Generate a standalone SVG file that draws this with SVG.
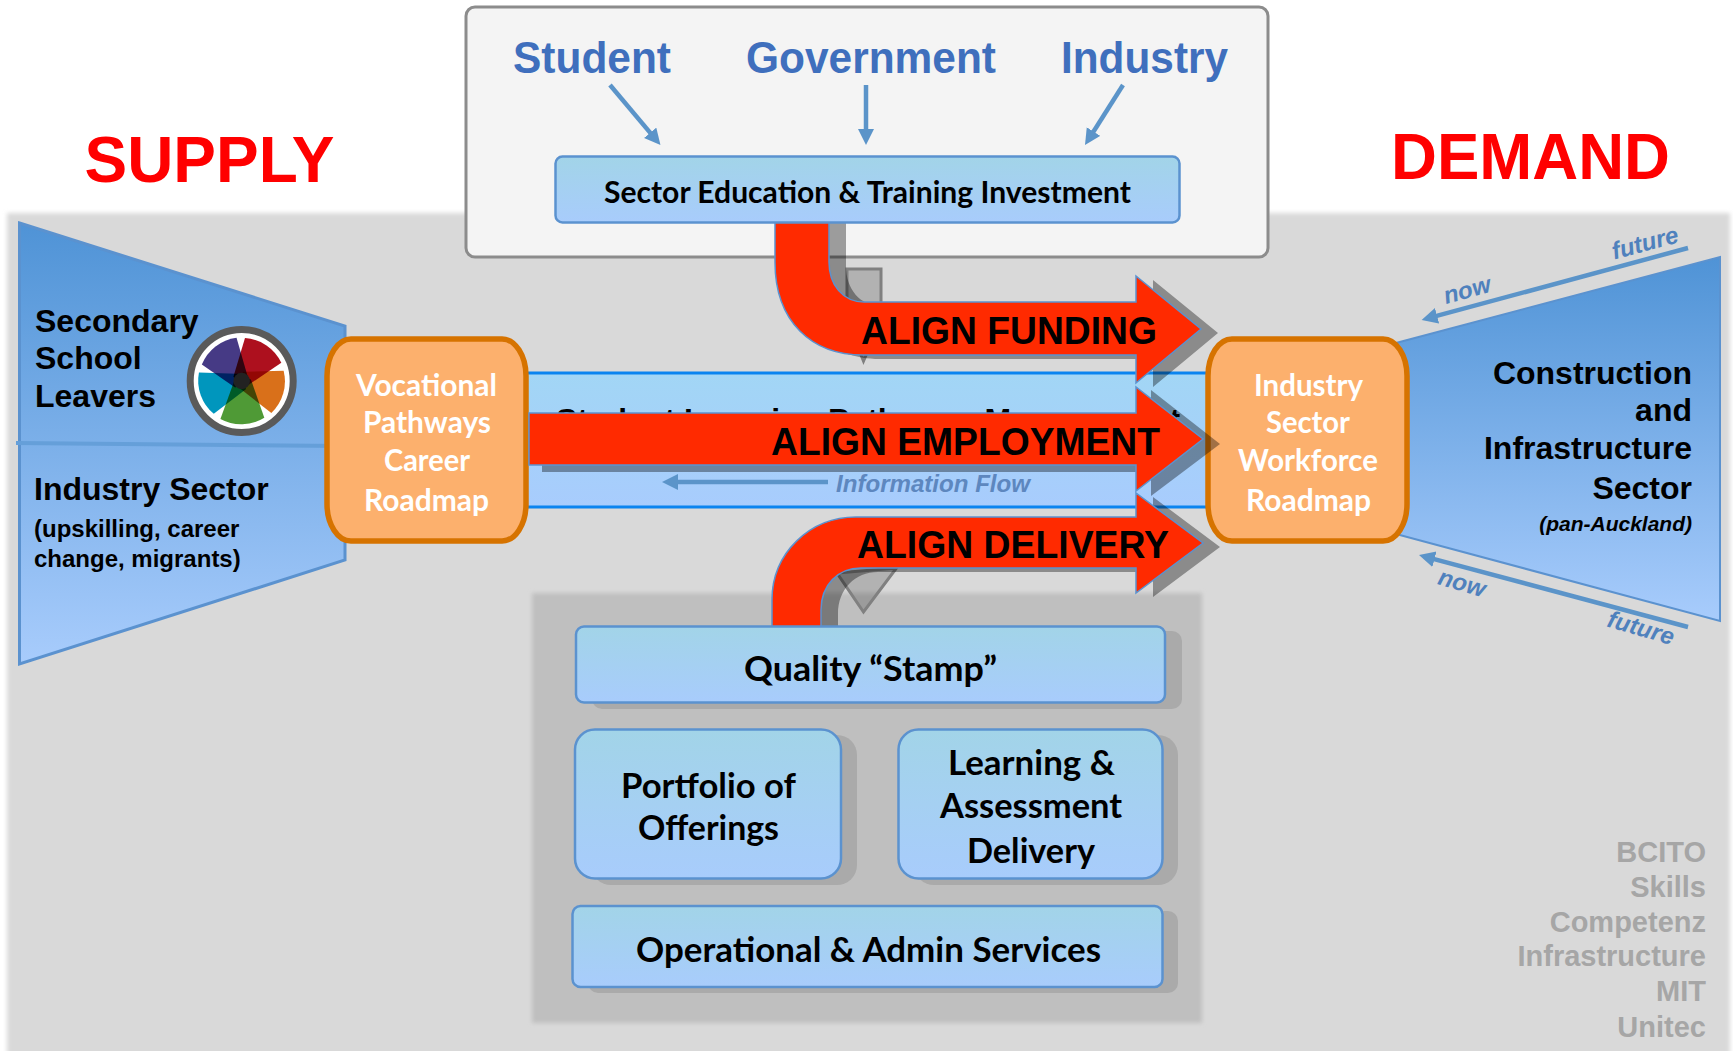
<svg xmlns="http://www.w3.org/2000/svg" width="1733" height="1051" viewBox="0 0 1733 1051">
<style>
text{font-family:"Liberation Sans",Arial,sans-serif;font-weight:700}
.cal{font-family:Lato,"Open Sans",sans-serif;font-weight:700;fill:#000}
.wh{font-family:Lato,"Open Sans",sans-serif;font-weight:700;fill:#fff;font-size:30px}
.h1{font-size:64px;fill:#f00}
.src{font-size:44px;fill:#3f6fbd}
.lab{font-size:32px;fill:#000}
.sub{font-size:24px;fill:#000}
.al{font-size:39px;fill:#000}
.flow{font-size:24px;font-style:italic;fill:#4f81bd;text-anchor:middle}
.org{font-size:29px;fill:#a6a6a6;text-anchor:end}
.box{fill:url(#boxg);stroke:#5b92cf;stroke-width:2.5}
.sh{fill:#aaa}
.oran{fill:#fcb06d;stroke:#d67300;stroke-width:5.5}
.trap{fill:url(#trapg);stroke:#5b92cf;stroke-width:3}
.red{fill:#ff2a00;stroke:#5b92cf;stroke-width:1.5}
.ash{fill:#000;fill-opacity:.36}
.hid{fill:#000;fill-opacity:.18;stroke:#808080;stroke-width:3}
.ln{stroke:#5b94c9;stroke-width:4.5;fill:none;marker-end:url(#ah)}
.w{mix-blend-mode:multiply}
</style>
<defs>
<linearGradient id="boxg" x1="0" y1="0" x2="0" y2="1"><stop offset="0" stop-color="#a2d4e8"/><stop offset="1" stop-color="#a8ccfc"/></linearGradient>
<linearGradient id="bandg" x1="0" y1="0" x2="0" y2="1"><stop offset="0" stop-color="#a2d6f5"/><stop offset="1" stop-color="#a8ccfd"/></linearGradient>
<linearGradient id="trapg" x1="0" y1="0" x2="0" y2="1"><stop offset="0" stop-color="#4f93d6"/><stop offset="1" stop-color="#a8ccfc"/></linearGradient>
<filter id="soft" x="-2%" y="-2%" width="104%" height="104%"><feGaussianBlur stdDeviation="2"/></filter>
<marker id="ah" markerUnits="userSpaceOnUse" markerWidth="17" markerHeight="17" refX="10" refY="8" orient="auto"><path d="M0,0 L16,8 L0,16 Z" fill="#5b94c9"/></marker>
<path id="aF" d="M775,215 V262 C775,322 812,355 863,355 H1136 V383 L1201,329 L1136,276 V302 H864 C843,302 829,285 829,262 V215 Z"/>
<path id="aE" d="M529,413 H1136 V387 L1203,439 L1136,491 V465 H529 Z"/>
<path id="aD" d="M772,632 V600 C772,553 810,517 856,517 H1136 V493 L1203,543 L1136,593 V568 H861 C838,568 821,585 821,610 V632 Z"/>
<path id="wedge" d="M3.3,-43 A43.5,43.5 0 0 1 39.6,-18.3 L1.7,7.3 L-8.3,-4.3 Z"/>
</defs>
<rect width="1733" height="1051" fill="#fff"/>
<rect x="7" y="213" width="1723" height="900" fill="#d9d9d9" filter="url(#soft)"/>
<g id="funders">
<rect x="466" y="7" width="802" height="250" rx="9" fill="#f4f4f4" stroke="#8c8c8c" stroke-width="3"/>
<text class="src" x="513" y="73" textLength="158" lengthAdjust="spacingAndGlyphs">Student</text>
<text class="src" x="746" y="73" textLength="250" lengthAdjust="spacingAndGlyphs">Government</text>
<text class="src" x="1061" y="73" textLength="167" lengthAdjust="spacingAndGlyphs">Industry</text>
</g>
<rect id="provider-panel" x="532" y="593" width="670" height="430" fill="#bfbfbf" filter="url(#soft)"/>
<g id="pathway-band">
<rect x="520" y="373" width="700" height="134" fill="url(#bandg)"/>
<path d="M520,373 H1220 M520,507 H1220" stroke="#0a84f0" stroke-width="3" fill="none"/>
<text class="lab" x="556" y="431">Student Learning Pathways Management</text>
</g>
<g id="supply">
<polygon class="trap" points="19.5,223 345,326 345,560 19.5,664"/>
<path d="M16,443 L345,446" stroke="#659fd9" stroke-width="4" fill="none"/>
<text class="lab" x="35" y="332">Secondary</text>
<text class="lab" x="35" y="369">School</text>
<text class="lab" x="35" y="407">Leavers</text>
<text class="lab" x="34" y="500">Industry Sector</text>
<text class="sub" x="34" y="537">(upskilling, career</text>
<text class="sub" x="34" y="567">change, migrants)</text>
</g>
<g id="logo" transform="translate(241.7,381)" style="isolation:isolate">
<circle r="51.5" fill="#fff" stroke="#5a5a5a" stroke-width="7"/>
<use href="#wedge" class="w" fill="#ad101e"/>
<use href="#wedge" class="w" fill="#d9701a" transform="rotate(72)"/>
<use href="#wedge" class="w" fill="#4f9a36" transform="rotate(144)"/>
<use href="#wedge" class="w" fill="#0096bd" transform="rotate(216)"/>
<use href="#wedge" class="w" fill="#463a85" transform="rotate(288)"/>
<circle r="8.3" fill="#222"/>
</g>
<g id="demand">
<polygon class="trap" style="stroke-width:2" points="1395,343.3 1720,257 1720,621 1395,533.7"/>
<text class="lab" text-anchor="end" x="1692" y="384">Construction</text>
<text class="lab" text-anchor="end" x="1692" y="421">and</text>
<text class="lab" text-anchor="end" x="1692" y="459">Infrastructure</text>
<text class="lab" text-anchor="end" x="1692" y="499">Sector</text>
<text text-anchor="end" x="1692" y="531" font-size="21" font-style="italic" fill="#000">(pan-Auckland)</text>
</g>
<g id="vocational-roadmap">
<rect class="oran" x="327" y="339" width="199" height="202" rx="24" ry="37"/>
<text class="wh" x="356" y="396" textLength="141" lengthAdjust="spacingAndGlyphs">Vocational</text>
<text class="wh" x="363" y="433" textLength="128" lengthAdjust="spacingAndGlyphs">Pathways</text>
<text class="wh" x="384" y="471" textLength="86" lengthAdjust="spacingAndGlyphs">Career</text>
<text class="wh" x="364" y="511" textLength="125" lengthAdjust="spacingAndGlyphs">Roadmap</text>
</g>
<g id="workforce-roadmap">
<rect class="oran" x="1208" y="339" width="199" height="202" rx="24" ry="37"/>
<text class="wh" x="1254" y="396" textLength="109" lengthAdjust="spacingAndGlyphs">Industry</text>
<text class="wh" x="1266" y="433" textLength="84" lengthAdjust="spacingAndGlyphs">Sector</text>
<text class="wh" x="1238" y="471" textLength="140" lengthAdjust="spacingAndGlyphs">Workforce</text>
<text class="wh" x="1246" y="511" textLength="125" lengthAdjust="spacingAndGlyphs">Roadmap</text>
</g>
<g id="connectors">
<path class="ln" d="M610,85 L656.6,140.4"/>
<path class="ln" d="M866,85 V139"/>
<path class="ln" d="M1123,85 L1088.2,140"/>
<path class="ln" d="M1688,248 L1427.4,318.4"/>
<path class="ln" d="M1688,627 L1424.8,556.6"/>
<path class="ln" d="M828,482 H668"/>
<polygon class="hid" points="847,269 881,269 881,320 863.5,361 847,320"/>
<polygon class="hid" points="837,573 896.5,568 863.5,612"/>
<use href="#aF" class="ash" transform="translate(17,4)"/>
<use href="#aD" class="ash" transform="translate(17,4)"/>
<path class="ash" d="M542,418 H1151 V390 L1220,444 L1151,496 V472 H542 Z"/>
<use href="#aF" class="red"/>
<use href="#aE" class="red"/>
<use href="#aD" class="red"/>
<text class="al" x="861" y="344" textLength="296" lengthAdjust="spacingAndGlyphs">ALIGN FUNDING</text>
<text class="al" x="771" y="455" textLength="389" lengthAdjust="spacingAndGlyphs">ALIGN EMPLOYMENT</text>
<text class="al" x="857" y="558" textLength="312" lengthAdjust="spacingAndGlyphs">ALIGN DELIVERY</text>
<text x="1645" y="251" class="flow" transform="rotate(-15 1645 243)">future</text>
<text x="1467" y="298" class="flow" transform="rotate(-15 1467 290)">now</text>
<text x="1462" y="591" class="flow" transform="rotate(16 1462 583)">now</text>
<text x="1641" y="636" class="flow" transform="rotate(16 1641 628)">future</text>
<text x="836" y="492" font-size="24" font-style="italic" fill="#5d87bf" textLength="194" lengthAdjust="spacingAndGlyphs">Information Flow</text>
</g>
<g id="sector-investment">
<rect class="box" x="555.5" y="156.5" width="624" height="66" rx="7"/>
<text class="cal" x="604" y="203" font-size="30" textLength="527" lengthAdjust="spacingAndGlyphs">Sector Education &amp; Training Investment</text>
</g>
<g id="quality-stamp">
<rect class="sh" x="592" y="631" width="590" height="78" rx="10"/>
<rect class="box" x="576" y="626.5" width="589" height="76" rx="8"/>
<text class="cal" x="744" y="681" font-size="34" textLength="253" lengthAdjust="spacingAndGlyphs">Quality “Stamp”</text>
</g>
<g id="portfolio">
<rect class="sh" x="591" y="735" width="266" height="150" rx="20"/>
<rect class="box" x="575" y="729.5" width="266" height="149" rx="20"/>
<text class="cal" x="621" y="798" font-size="34" textLength="175" lengthAdjust="spacingAndGlyphs">Portfolio of</text>
<text class="cal" x="638" y="840" font-size="34" textLength="141" lengthAdjust="spacingAndGlyphs">Offerings</text>
</g>
<g id="learning">
<rect class="sh" x="914" y="735" width="264" height="150" rx="20"/>
<rect class="box" x="898.5" y="729.5" width="264" height="149" rx="20"/>
<text class="cal" x="948" y="775" font-size="34" textLength="167" lengthAdjust="spacingAndGlyphs">Learning &amp;</text>
<text class="cal" x="940" y="818" font-size="34" textLength="182" lengthAdjust="spacingAndGlyphs">Assessment</text>
<text class="cal" x="967" y="863" font-size="34" textLength="128" lengthAdjust="spacingAndGlyphs">Delivery</text>
</g>
<g id="operational">
<rect class="sh" x="588" y="911" width="590" height="82" rx="10"/>
<rect class="box" x="572.5" y="906" width="590" height="81" rx="8"/>
<text class="cal" x="636" y="962" font-size="34" textLength="465" lengthAdjust="spacingAndGlyphs">Operational &amp; Admin Services</text>
</g>
<g id="titles">
<text class="h1" x="84.5" y="182" textLength="250" lengthAdjust="spacingAndGlyphs">SUPPLY</text>
<text class="h1" x="1391" y="179" textLength="279" lengthAdjust="spacingAndGlyphs">DEMAND</text>
</g>
<g id="organisations">
<text class="org" x="1706" y="862">BCITO</text>
<text class="org" x="1706" y="897">Skills</text>
<text class="org" x="1706" y="932">Competenz</text>
<text class="org" x="1706" y="966">Infrastructure</text>
<text class="org" x="1706" y="1001">MIT</text>
<text class="org" x="1706" y="1037">Unitec</text>
</g>
</svg>
